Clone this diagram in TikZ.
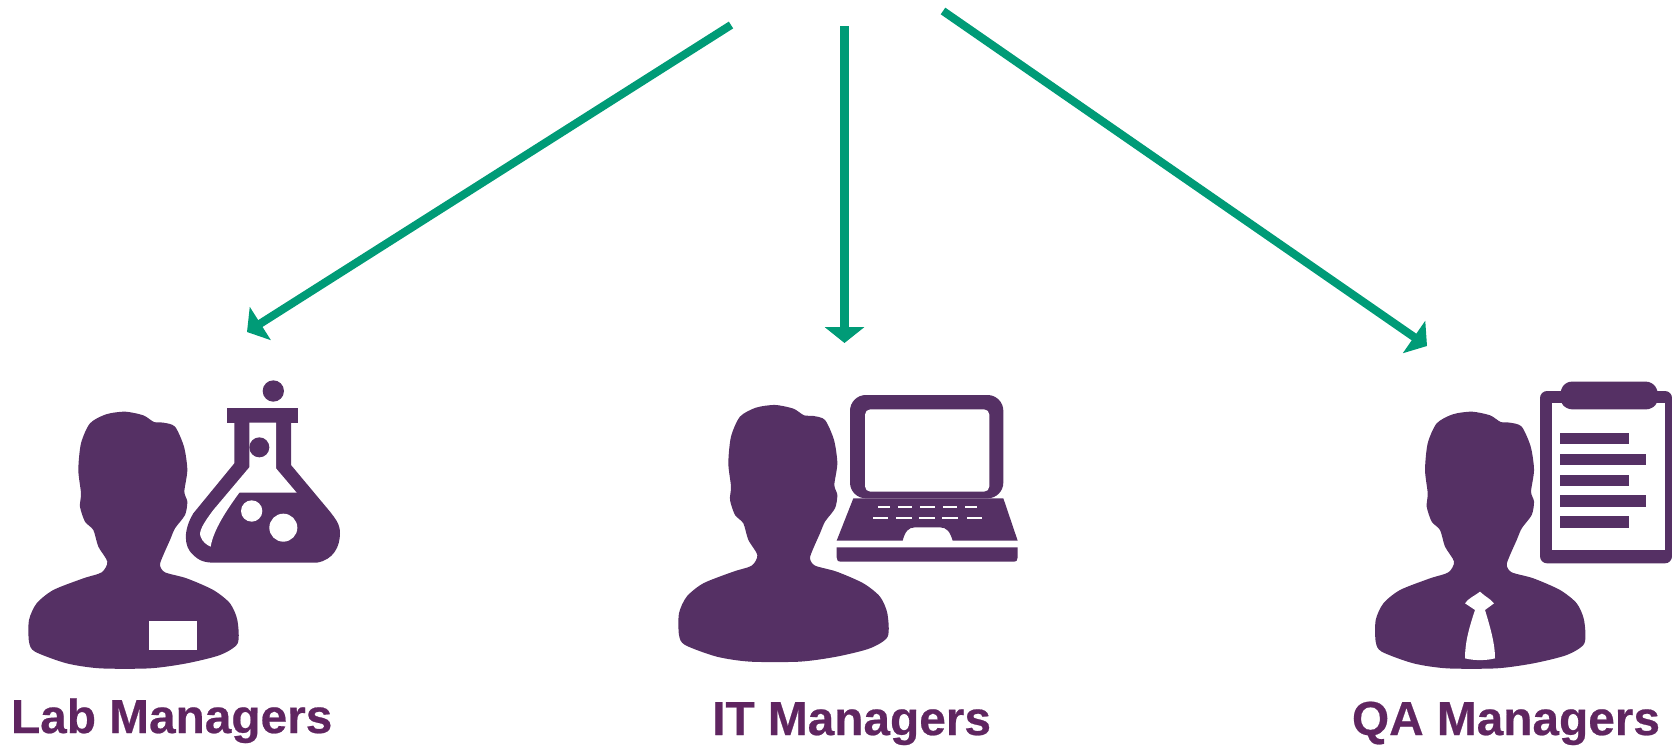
\documentclass[tikz,border=0pt]{standalone}
\usepackage{fontspec}
\setmainfont{Liberation Sans}[BoldFeatures={FakeBold=0.5}]
\usetikzlibrary{arrows.meta}
\definecolor{iconpurple}{HTML}{553064}
\definecolor{labelpurple}{HTML}{5F2560}
\definecolor{arrowgreen}{HTML}{009B77}
\tikzset{
    flow/.style={draw=arrowgreen,line width=4.6pt,-{Stealth[length=9pt,width=22pt,inset=0pt]}},
    rolelabel/.style={anchor=base,inner sep=0pt,text=labelpurple,font=\fontsize{27.2pt}{30pt}\selectfont\bfseries},
    person/.pic={
        \fill[iconpurple] plot[smooth cycle,tension=0.45] coordinates {
            (375,155) (430,166) (462,186) (490,188) (525,200) (552,260) (562,330) (553,395)
            (562,425) (555,465) (525,505) (510,540) (490,585) (480,615) (495,637)
            (560,655) (640,690) (690,730) (712,780) (713,850) (660,885) (560,910)
            (450,925) (300,925) (200,910) (105,875) (87,845) (87,780) (110,730)
            (160,690) (250,655) (305,637) (322,605) (295,560) (280,510) (255,485)
            (240,440) (243,400) (235,330) (243,250) (270,190) (318,163)};
    }
}
\begin{document}
\begin{tikzpicture}[x=0.02cm,y=-0.02cm]
    \useasboundingbox (0,0) rectangle (1672,747);
    % lab manager
    \begin{scope}[shift={(0,360)},scale=1/3]
        \pic[scale=1/3] {person};
        \fill[white] (447,783) rectangle (592,870);
        \fill[iconpurple] (820,93) circle (32);
        \fill[iconpurple] (682,145) rectangle (893,188);
        \fill[iconpurple] (703,188) -- (703,310) -- (580,460) .. controls (550,510) and (550,560) .. (580,585)
            .. controls (600,605) and (620,608) .. (640,608) -- (950,608)
            .. controls (1000,600) and (1020,560) .. (1020,520) .. controls (1020,490) and (1005,475) .. (990,455)
            -- (873,315) -- (873,188) -- cycle;
        \fill[white] (748,188) -- (748,322) -- (640,450) .. controls (610,490) and (595,515) .. (602,530)
            .. controls (607,545) and (620,555) .. (632,560) .. controls (640,510) and (680,450) .. (718,398)
            -- (890,398) -- (828,325) -- (828,188) -- cycle;
        \fill[iconpurple] (778,262) circle (30);
        \fill[white] (755,453) circle (32);
        \fill[white] (850,503) circle (42);
    \end{scope}
    % it manager
    \begin{scope}[shift={(650,353.3)},scale=1/3]
        \pic[scale=1/3] {person};
    \end{scope}
    \begin{scope}[shift={(660,370)},scale=1/3]
        \fill[iconpurple,rounded corners=9pt] (570,75) rectangle (1030,385);
        \fill[white,rounded corners=3pt] (615,118) rectangle (988,365);
        \fill[iconpurple] (580,385) -- (530,512) -- (728,512) .. controls (735,485) and (745,472) .. (765,472)
            -- (840,472) .. controls (860,472) and (870,485) .. (878,512) -- (1073,512) -- (1030,385) -- cycle;
        \fill[iconpurple] (530,532) -- (1073,532) -- (1073,562) .. controls (1073,570) and (1070,575) .. (1060,575)
            -- (543,575) .. controls (533,575) and (530,570) .. (530,562) -- cycle;
        \foreach \xa/\xb in {655/690,715/755,780/825,850/890,915/950}
            \fill[white] (\xa,409) rectangle (\xb,415);
        \foreach \xa/\xb in {640/685,708/755,777/825,847/895,922/967}
            \fill[white] (\xa,442) rectangle (\xb,448);
    \end{scope}
    % qa manager
    \begin{scope}[shift={(1346.7,360)},scale=1/3]
        \pic[scale=1/3] {person};
    \end{scope}
    \begin{scope}[shift={(1340,360)},scale=1/3]
        \fill[white] (420,695) .. controls (400,710) and (385,715) .. (375,730) -- (405,750)
            .. controls (385,810) and (375,850) .. (375,895) .. controls (400,902) and (440,902) .. (465,895)
            .. controls (465,850) and (450,800) .. (435,750) -- (462,730) .. controls (450,715) and (435,710) .. (420,695) -- cycle;
        \fill[iconpurple,rounded corners=4pt] (600,93) rectangle (996,610);
        \fill[white] (636,130) rectangle (974,570);
        \fill[iconpurple,rounded corners=3pt] (660,92) -- (678,65) -- (935,65) -- (955,92) -- (955,125)
            -- (935,148) -- (680,148) -- (660,125) -- cycle;
        \foreach \ya/\yb/\xb in {218/252/866,282/315/918,345/378/866,406/440/918,468/503/866}
            \fill[iconpurple] (660,\ya) rectangle (\xb,\yb);
    \end{scope}
    % labels
    \node[rolelabel] (lablabel) at (171.7,733) {Lab Managers};
    \node[rolelabel] (itlabel) at (851.6,735) {IT Managers};
    \node[rolelabel] (qalabel) at (1506,735) {QA Managers};
    % arrows
    \coordinate (labstart) at (731,25);
    \coordinate (labend) at (247,332);
    \coordinate (itstart) at (844.5,26);
    \coordinate (itend) at (844.5,343);
    \coordinate (qastart) at (943,11);
    \coordinate (qaend) at (1427,346);
    \draw[flow] (labstart) -- (labend);
    \draw[flow] (itstart) -- (itend);
    \draw[flow] (qastart) -- (qaend);
\end{tikzpicture}
\end{document}
